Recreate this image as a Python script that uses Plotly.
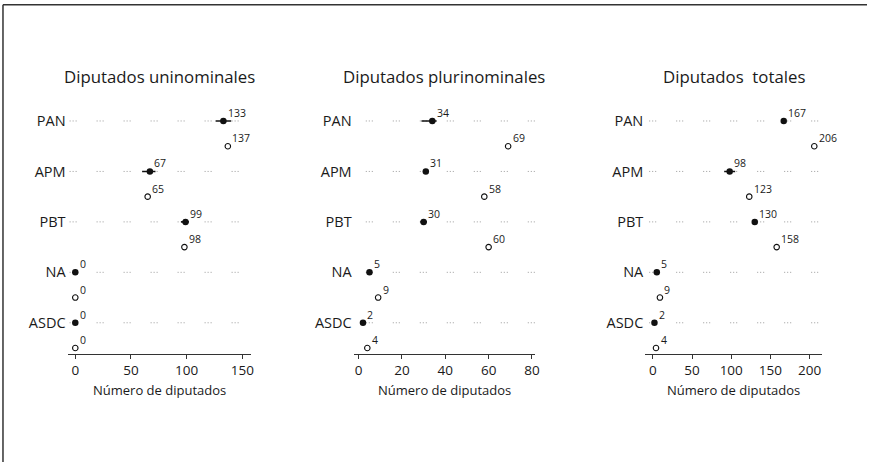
import plotly.graph_objects as go

# ---------------- data ----------------
categories = ["PAN", "APM", "PBT", "NA", "ASDC"]

panel_titles = ["Diputados uninominales", "Diputados plurinominales", "Diputados\u00a0 totales"]
axis_title = "Número de diputados"

uni_filled = [133, 67, 99, 0, 0]
uni_open = [137, 65, 98, 0, 0]
uni_low = [126, 60, 95, 0, 0]
uni_high = [140, 72, 102, 0, 0]

plu_filled = [34, 31, 30, 5, 2]
plu_open = [69, 58, 60, 9, 4]
plu_low = [29, 31, 28.5, 5, 2]
plu_high = [36, 31, 31.5, 5, 2]

tot_filled = [167, 98, 130, 5, 2]
tot_open = [206, 123, 158, 9, 4]
tot_low = [167, 91, 130, 5, 2]
tot_high = [167, 105, 130, 5, 2]

uni_ticks = [0, 50, 100, 150]
plu_ticks = [0, 20, 40, 60, 80]
tot_ticks = [0, 50, 100, 150, 200]

panels = [
    dict(filled=uni_filled, open=uni_open, low=uni_low, high=uni_high, ticks=uni_ticks,
         xr=[-6.9, 157.4], dom=[68 / 872, 252 / 872], dot_start=-5.1),
    dict(filled=plu_filled, open=plu_open, low=plu_low, high=plu_high, ticks=plu_ticks,
         xr=[-2.3, 81.5], dom=[355.7 / 872, 538.3 / 872], dot_start=3.3),
    dict(filled=tot_filled, open=tot_open, low=tot_low, high=tot_high, ticks=tot_ticks,
         xr=[-9.7, 215.8], dom=[649 / 872, 826.7 / 872], dot_start=-4.7),
]

FONT = "Open Sans"
TXT = "#1a1a1a"
DY = 3  # vertical correction (px)

fig = go.Figure()
annotations = []
ydom = [1 - (355.7 - DY) / 462, 1 - (115 - DY) / 462]
yr = [10.224, 0.764]

filled_rows = [2 * i + 1 for i in range(len(categories))]
open_rows = [2 * i + 2 for i in range(len(categories))]

layout = {}
for k, p in enumerate(panels):
    sfx = "" if k == 0 else str(k + 1)
    xa, ya = "x" + sfx, "y" + sfx
    # dotted guide lines on filled rows
    for r in filled_rows:
        fig.add_trace(go.Scatter(
            x=[p["dot_start"], p["xr"][1]], y=[r, r], mode="lines",
            line=dict(color="#9a9a9a", width=1, dash="1px,2px,1px,2px,1px,20px"),
            xaxis=xa, yaxis=ya, hoverinfo="skip", showlegend=False))
    # filled points with error bars
    fig.add_trace(go.Scatter(
        x=p["filled"], y=filled_rows, mode="markers",
        marker=dict(symbol="circle", size=6.5, color="#111111"),
        error_x=dict(type="data", symmetric=False,
                     array=[h - v for h, v in zip(p["high"], p["filled"])],
                     arrayminus=[v - l for l, v in zip(p["low"], p["filled"])],
                     color="#111111", thickness=1.6, width=0),
        xaxis=xa, yaxis=ya, showlegend=False))
    # open points
    fig.add_trace(go.Scatter(
        x=p["open"], y=open_rows, mode="markers",
        marker=dict(symbol="circle-open", size=5.5, color="#111111", line=dict(width=1.1)),
        xaxis=xa, yaxis=ya, showlegend=False))
    # value labels
    for vals, rows in ((p["filled"], filled_rows), (p["open"], open_rows)):
        for v, r in zip(vals, rows):
            annotations.append(dict(
                x=v, y=r, xref=xa, yref=ya, text=str(v), showarrow=False,
                xanchor="left", yanchor="middle", xshift=2.5, yshift=8,
                font=dict(family=FONT, size=10.5, color=TXT)))
    # panel title
    annotations.append(dict(
        x=(p["dom"][0] + p["dom"][1]) / 2, y=1 - (76 - DY) / 462, xref="paper", yref="paper",
        text=panel_titles[k], showarrow=False, xanchor="center", yanchor="middle",
        font=dict(family=FONT, size=16.8, color=TXT)))
    # axis title
    annotations.append(dict(
        x=(p["dom"][0] + p["dom"][1]) / 2, y=1 - (392 - DY) / 462, xref="paper", yref="paper",
        text=axis_title, showarrow=False, xanchor="center", yanchor="middle",
        font=dict(family=FONT, size=13, color=TXT)))

    layout["xaxis" + sfx] = dict(
        domain=p["dom"], range=p["xr"], anchor=ya, showgrid=False, zeroline=False,
        showline=True, linecolor="#333333", linewidth=1, ticks="outside", ticklen=4,
        tickwidth=1, tickcolor="#333333", tickvals=p["ticks"],
        tickfont=dict(family=FONT, size=13.5, color=TXT))
    layout["yaxis" + sfx] = dict(
        domain=ydom, range=yr, anchor=xa, showgrid=False, zeroline=False,
        showline=False, ticks="", tickvals=filled_rows, ticktext=categories,
        ticklabelstandoff=1,
        tickfont=dict(family=FONT, size=14.5, color=TXT))

# frame (top and left edges)
ftop = 1 - 0.8 / 462
shapes = [
    dict(type="line", xref="paper", yref="paper", x0=3 / 872, x1=3 / 872, y0=0, y1=ftop,
         line=dict(color="#333333", width=1.5)),
    dict(type="line", xref="paper", yref="paper", x0=3 / 872, x1=1, y0=ftop, y1=ftop,
         line=dict(color="#333333", width=1.5)),
]

fig.update_layout(
    width=872, height=462, margin=dict(l=0, r=0, t=0, b=0),
    paper_bgcolor="white", plot_bgcolor="white",
    annotations=annotations, shapes=shapes, showlegend=False,
    **layout)

fig.write_html(
    "out.html",
    config={"displayModeBar": False},
    post_script="document.body.style.margin='0px';document.body.style.overflow='hidden';",
)
